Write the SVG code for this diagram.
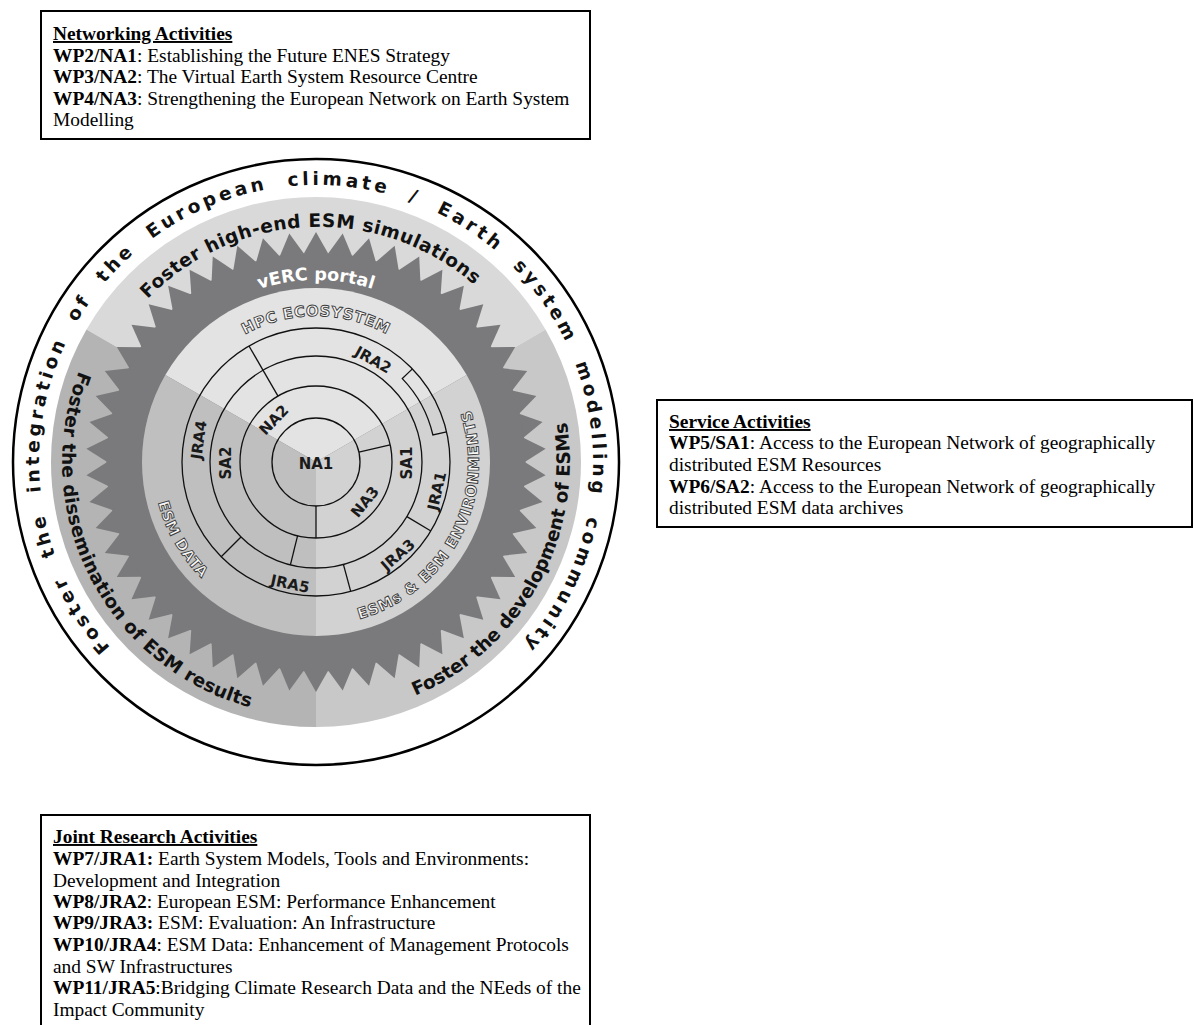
<svg xmlns="http://www.w3.org/2000/svg" width="1194" height="1025" viewBox="0 0 1194 1025">
<style>
.box{fill:#fff;stroke:#000;stroke-width:2}
.bt{font-family:"Liberation Serif","Times New Roman",serif;font-size:19.4px;fill:#000}
.b{font-weight:bold}
.u{font-weight:bold;text-decoration:underline}
.ring{fill:none;stroke:#111;stroke-width:1.3}
.lbl{font-family:"DejaVu Sans",sans-serif;font-weight:bold;font-size:15px;fill:#1a1a1a;text-anchor:middle;dominant-baseline:central}
.arc{font-family:"DejaVu Sans",sans-serif;font-weight:bold;font-size:18.5px;fill:#111}
.outl{font-family:"DejaVu Sans",sans-serif;font-weight:bold;font-size:15px;fill:#f7f7f7;stroke:#3a3a3a;stroke-width:0.9;text-anchor:middle}
</style>
<defs>
<path id="pOuter" d="M110.2,647.3 A277,277 0 1 1 518.6,650.9"/>
<path id="pTop" d="M147.6,299.1 A238,238 0 0 1 498.3,309"/>
<path id="pDis" d="M78.9,371 A254,254 0 0 0 271.9,712.1"/>
<path id="pDev" d="M415.2,695.8 A254,254 0 0 0 564.4,409.2"/>
<path id="pVerc" d="M199,322.6 A182,182 0 0 1 433,322.6"/>
<path id="pHpc" d="M189.6,389 A146,146 0 0 1 442.4,389"/>
<path id="pData" d="M153,462 A163,163 0 0 0 234.5,603.2"/>
<path id="pEnv" d="M349.9,621.4 A163,163 0 0 0 467.1,400.9"/>
<path id="spike" d="M316,232 L328.15,253.6 L303.85,253.6 Z"/>
</defs>

<g id="networking-box">
<rect class="box" x="41" y="11" width="549" height="128"/>
<text class="bt" x="53" y="40"><tspan class="u">Networking Activities</tspan></text>
<text class="bt" x="53" y="62"><tspan class="b">WP2/NA1</tspan>: Establishing the Future ENES Strategy</text>
<text class="bt" x="53" y="83"><tspan class="b">WP3/NA2</tspan>: The Virtual Earth System Resource Centre</text>
<text class="bt" x="53" y="105"><tspan class="b">WP4/NA3</tspan>: Strengthening the European Network on Earth System</text>
<text class="bt" x="53" y="126">Modelling</text>
</g>

<g id="service-box">
<rect class="box" x="657" y="400" width="535" height="127"/>
<text class="bt" x="669" y="428"><tspan class="u">Service Activities</tspan></text>
<text class="bt" x="669" y="449"><tspan class="b">WP5/SA1</tspan>: Access to the European Network of geographically</text>
<text class="bt" x="669" y="471">distributed ESM Resources</text>
<text class="bt" x="669" y="493"><tspan class="b">WP6/SA2</tspan>: Access to the European Network of geographically</text>
<text class="bt" x="669" y="514">distributed ESM data archives</text>
</g>

<g id="jra-box">
<rect class="box" x="41" y="815" width="549" height="230"/>
<text class="bt" x="53" y="843"><tspan class="u">Joint Research Activities</tspan></text>
<text class="bt" x="53" y="865"><tspan class="b">WP7/JRA1:</tspan> Earth System Models, Tools and Environments:</text>
<text class="bt" x="53" y="887">Development and Integration</text>
<text class="bt" x="53" y="908"><tspan class="b">WP8/JRA2</tspan>: European ESM: Performance Enhancement</text>
<text class="bt" x="53" y="929"><tspan class="b">WP9/JRA3:</tspan> ESM: Evaluation: An Infrastructure</text>
<text class="bt" x="53" y="951"><tspan class="b">WP10/JRA4</tspan>: ESM Data: Enhancement of Management Protocols</text>
<text class="bt" x="53" y="973">and SW Infrastructures</text>
<text class="bt" x="53" y="994"><tspan class="b">WP11/JRA5</tspan>:Bridging Climate Research Data and the NEeds of the</text>
<text class="bt" x="53" y="1016">Impact Community</text>
</g>

<g id="wheel">
<circle cx="316" cy="462" r="303" fill="#fff" stroke="#000" stroke-width="2.5"/>
<path d="M316,462 L86.5,329.5 A265,265 0 0 1 545.5,329.5 Z" fill="#d9d9d9"/>
<path d="M316,462 L545.5,329.5 A265,265 0 0 1 316,727 Z" fill="#c8c8c8"/>
<path d="M316,462 L316,727 A265,265 0 0 1 86.5,329.5 Z" fill="#b4b4b4"/>
<g id="star" fill="#7a7a7c">
<circle cx="316" cy="462" r="209.5"/>
<use href="#spike"/>
<use href="#spike" transform="rotate(6.6667 316 462)"/>
<use href="#spike" transform="rotate(13.3333 316 462)"/>
<use href="#spike" transform="rotate(20 316 462)"/>
<use href="#spike" transform="rotate(26.6667 316 462)"/>
<use href="#spike" transform="rotate(33.3333 316 462)"/>
<use href="#spike" transform="rotate(40 316 462)"/>
<use href="#spike" transform="rotate(46.6667 316 462)"/>
<use href="#spike" transform="rotate(53.3333 316 462)"/>
<use href="#spike" transform="rotate(60 316 462)"/>
<use href="#spike" transform="rotate(66.6667 316 462)"/>
<use href="#spike" transform="rotate(73.3333 316 462)"/>
<use href="#spike" transform="rotate(80 316 462)"/>
<use href="#spike" transform="rotate(86.6667 316 462)"/>
<use href="#spike" transform="rotate(93.3333 316 462)"/>
<use href="#spike" transform="rotate(100 316 462)"/>
<use href="#spike" transform="rotate(106.6667 316 462)"/>
<use href="#spike" transform="rotate(113.3333 316 462)"/>
<use href="#spike" transform="rotate(120 316 462)"/>
<use href="#spike" transform="rotate(126.6667 316 462)"/>
<use href="#spike" transform="rotate(133.3333 316 462)"/>
<use href="#spike" transform="rotate(140 316 462)"/>
<use href="#spike" transform="rotate(146.6667 316 462)"/>
<use href="#spike" transform="rotate(153.3333 316 462)"/>
<use href="#spike" transform="rotate(160 316 462)"/>
<use href="#spike" transform="rotate(166.6667 316 462)"/>
<use href="#spike" transform="rotate(173.3333 316 462)"/>
<use href="#spike" transform="rotate(180 316 462)"/>
<use href="#spike" transform="rotate(186.6667 316 462)"/>
<use href="#spike" transform="rotate(193.3333 316 462)"/>
<use href="#spike" transform="rotate(200 316 462)"/>
<use href="#spike" transform="rotate(206.6667 316 462)"/>
<use href="#spike" transform="rotate(213.3333 316 462)"/>
<use href="#spike" transform="rotate(220 316 462)"/>
<use href="#spike" transform="rotate(226.6667 316 462)"/>
<use href="#spike" transform="rotate(233.3333 316 462)"/>
<use href="#spike" transform="rotate(240 316 462)"/>
<use href="#spike" transform="rotate(246.6667 316 462)"/>
<use href="#spike" transform="rotate(253.3333 316 462)"/>
<use href="#spike" transform="rotate(260 316 462)"/>
<use href="#spike" transform="rotate(266.6667 316 462)"/>
<use href="#spike" transform="rotate(273.3333 316 462)"/>
<use href="#spike" transform="rotate(280 316 462)"/>
<use href="#spike" transform="rotate(286.6667 316 462)"/>
<use href="#spike" transform="rotate(293.3333 316 462)"/>
<use href="#spike" transform="rotate(300 316 462)"/>
<use href="#spike" transform="rotate(306.6667 316 462)"/>
<use href="#spike" transform="rotate(313.3333 316 462)"/>
<use href="#spike" transform="rotate(320 316 462)"/>
<use href="#spike" transform="rotate(326.6667 316 462)"/>
<use href="#spike" transform="rotate(333.3333 316 462)"/>
<use href="#spike" transform="rotate(340 316 462)"/>
<use href="#spike" transform="rotate(346.6667 316 462)"/>
<use href="#spike" transform="rotate(353.3333 316 462)"/>
</g>
<path d="M316,462 L165.3,375 A174,174 0 0 1 466.7,375 Z" fill="#e3e3e3"/>
<path d="M316,462 L466.7,375 A174,174 0 0 1 316,636 Z" fill="#d2d2d2"/>
<path d="M316,462 L316,636 A174,174 0 0 1 165.3,375 Z" fill="#bfbfbf"/>
</g>

<g id="divisions">
<circle class="ring" cx="316" cy="462" r="134"/>
<circle class="ring" cx="316" cy="462" r="106"/>
<circle class="ring" cx="316" cy="462" r="76"/>
<circle class="ring" cx="316" cy="462" r="44"/>
<path class="ring" d="M278,396.2 L249,346"/>
<path class="ring" d="M241,537 L221.2,556.8"/>
<path class="ring" d="M297.6,535.7 L290.4,564.9"/>
<path class="ring" d="M316,506 L316,538"/>
<path class="ring" d="M358.9,452.1 L390.1,444.9"/>
<path class="ring" d="M406.9,516.6 L430.9,531"/>
<path class="ring" d="M343.4,564.4 L350.7,591.4"/>
<path class="ring" d="M412.4,368.9 L402.3,378.6 A120,120 0 0 1 432.9,435 L446.6,431.9"/>
</g>

<g id="ring-labels">
<text class="lbl" x="316" y="464" font-size="17">NA1</text>
<text class="lbl" x="274" y="420" transform="rotate(-46 274 420)">NA2</text>
<text class="lbl" x="365" y="502" transform="rotate(-51 365 502)">NA3</text>
<text class="lbl" x="226" y="463" transform="rotate(-90 226 463)">SA2</text>
<text class="lbl" x="407" y="463" transform="rotate(-90 407 463)">SA1</text>
<text class="lbl" x="199" y="440" transform="rotate(-82 199 440)">JRA4</text>
<text class="lbl" x="437" y="491" transform="rotate(-77 437 491)">JRA1</text>
<text class="lbl" x="373" y="360" transform="rotate(29 373 360)">JRA2</text>
<text class="lbl" x="398" y="555" transform="rotate(-41 398 555)">JRA3</text>
<text class="lbl" x="290" y="584" transform="rotate(12 290 584)">JRA5</text>
</g>

<g id="arc-labels">
<text class="arc" font-size="19.5" word-spacing="10"><textPath href="#pOuter" textLength="1272" lengthAdjust="spacing">Foster the integration of the European climate / Earth system modelling community</textPath></text>
<text class="arc"><textPath href="#pTop" textLength="360" lengthAdjust="spacing">Foster high-end ESM simulations</textPath></text>
<text class="arc"><textPath href="#pDis" textLength="425" lengthAdjust="spacing">Foster the dissemination of ESM results</textPath></text>
<text class="arc"><textPath href="#pDev" textLength="337" lengthAdjust="spacing">Foster the development of ESMs</textPath></text>
<text font-family="DejaVu Sans, sans-serif" font-weight="bold" font-size="17.5" fill="#fff" text-anchor="middle"><textPath href="#pVerc" startOffset="50%">vERC portal</textPath></text>
<text class="outl" letter-spacing="0.5"><textPath href="#pHpc" startOffset="50%">HPC ECOSYSTEM</textPath></text>
<text class="outl" letter-spacing="0.5"><textPath href="#pData" startOffset="50%">ESM DATA</textPath></text>
<text class="outl"><textPath href="#pEnv" startOffset="50%" textLength="265" lengthAdjust="spacing">ESMs &amp; ESM ENVIRONMENTS</textPath></text>
</g>
</svg>
